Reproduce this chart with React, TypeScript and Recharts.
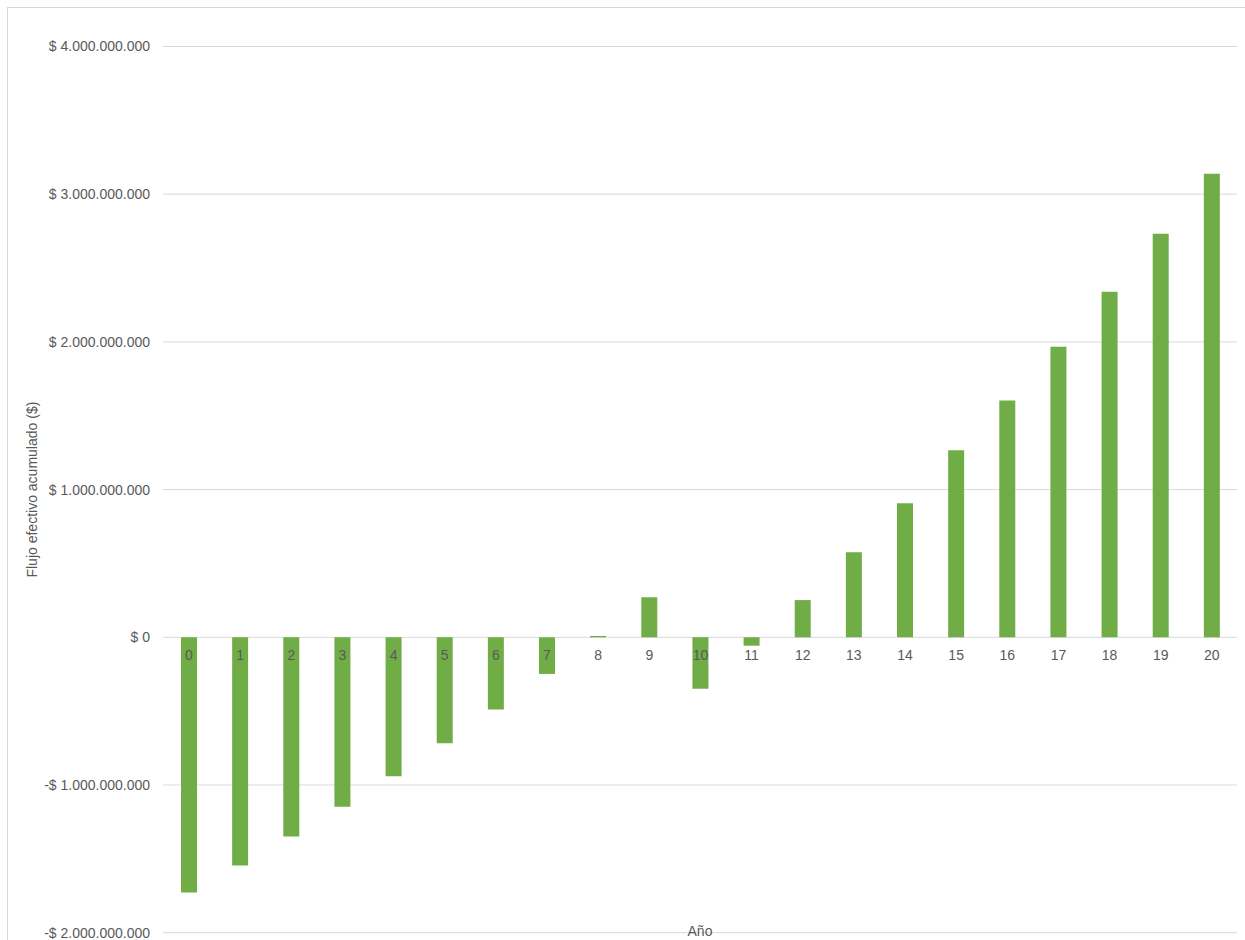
import { BarChart, Bar, XAxis, YAxis, CartesianGrid, LabelList, Label } from "recharts";

// Año del proyecto y flujo efectivo acumulado ($)
const anios = ["0", "1", "2", "3", "4", "5", "6", "7", "8", "9", "10", "11", "12", "13", "14", "15", "16", "17", "18", "19", "20"];
const flujoAcumulado = [
    -1728000000, -1545000000, -1349000000, -1147000000, -941000000, -718000000, -488000000,
    -248000000, 9000000, 271000000, -349000000, -57000000, 252000000, 576000000, 908000000,
    1266000000, 1603000000, 1968000000, 2340000000, 2732000000, 3139000000,
];
const yTicks = [-2000000000, -1000000000, 0, 1000000000, 2000000000, 3000000000, 4000000000];

const data = anios.map((anio, i) => ({ anio, flujo: flujoAcumulado[i] }));

const FONT = '"Liberation Sans", Arial, sans-serif';
const TEXT_COLOR = "#595959";
const GRID_COLOR = "#d9d9d9";
const BAR_COLOR = "#70ad47";

const withDots = (n: number) => String(Math.round(n)).replace(/\B(?=(\d{3})+(?!\d))/g, ".");

const formatPesos = (v: number) => (v < 0 ? `-$ ${withDots(-v)}` : `$ ${withDots(v)}`);

// year label sits just under the zero line, over the bar itself
const renderYearLabel = (props: any) => {
    const vb = props.viewBox ?? props;
    const { x, y, width, height } = vb;
    const top = Math.min(y, y + height);
    const bottom = Math.max(y, y + height);
    const base = data[props.index]?.flujo < 0 ? top : bottom;
    return (
        <text
            x={x + width / 2}
            y={base + 18}
            textAnchor="middle"
            dominantBaseline="central"
            fill={TEXT_COLOR}
            fontSize={14}
            fontFamily={FONT}
        >
            {props.value}
        </text>
    );
};

const renderYTitle = (props: any) => {
    const { x, y, height } = props.viewBox;
    const cx = x + 24;
    const cy = y + height / 2;
    return (
        <text
            x={cx}
            y={cy}
            transform={`rotate(-90, ${cx}, ${cy})`}
            textAnchor="middle"
            dominantBaseline="central"
            fill={TEXT_COLOR}
            fontSize={14}
            fontFamily={FONT}
        >
            Flujo efectivo acumulado ($)
        </text>
    );
};

const renderXTitle = (props: any) => {
    const { x, y, width } = props.viewBox;
    return (
        <text
            x={x + width / 2}
            y={y - 2}
            textAnchor="middle"
            dominantBaseline="central"
            fill={TEXT_COLOR}
            fontSize={14}
            fontFamily={FONT}
        >
            Año
        </text>
    );
};

export default function App() {
    return (
        <div
            style={{
                position: "fixed",
                left: 7,
                top: 7,
                width: 1260,
                height: 980,
                borderLeft: `1px solid ${GRID_COLOR}`,
                borderTop: `1px solid ${GRID_COLOR}`,
                background: "#fff",
            }}
        >
            <BarChart
                width={1240}
                height={960}
                data={data}
                margin={{ top: 38.5, right: 11, bottom: 34.3, left: 0 }}
                style={{ fontFamily: FONT }}
            >
                <CartesianGrid vertical={false} stroke={GRID_COLOR} />
                <XAxis
                    dataKey="anio"
                    height={1}
                    tick={false}
                    axisLine={false}
                    tickLine={false}
                    label={{ content: renderXTitle }}
                />
                <YAxis
                    type="number"
                    width={155}
                    domain={[-2000000000, 4000000000]}
                    ticks={yTicks}
                    tickFormatter={formatPesos}
                    axisLine={false}
                    tickLine={false}
                    tickSize={6}
                    tickMargin={7}
                    tick={{ fill: TEXT_COLOR, fontSize: 14, fontFamily: FONT }}
                >
                    <Label content={renderYTitle} />
                </YAxis>
                <Bar dataKey="flujo" fill={BAR_COLOR} barSize={16} isAnimationActive={false}>
                    <LabelList dataKey="anio" content={renderYearLabel} />
                </Bar>
            </BarChart>
        </div>
    );
}
